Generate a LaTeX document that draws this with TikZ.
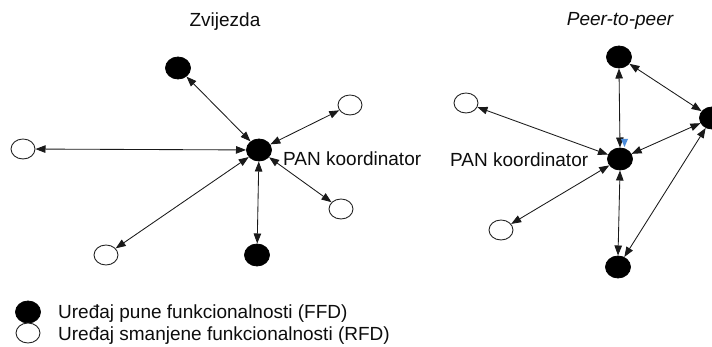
\documentclass[tikz,border=0pt]{standalone}
\usepackage{fontspec}
\setmainfont{Liberation Sans}
\usetikzlibrary{arrows.meta,shapes.geometric}
\begin{document}
\begin{tikzpicture}[x=1pt,y=-1pt,
  ffd/.style={ellipse,fill=black,draw=black,line width=0.8pt,minimum width=25pt,minimum height=22pt,inner sep=0pt,outer sep=0.5pt},
  rfd/.style={ellipse,fill=white,draw=black!85,line width=0.9pt,minimum width=24pt,minimum height=20pt,inner sep=0pt,outer sep=0.5pt},
  link/.style={line width=0.85pt,draw=black!90,{Triangle[length=10pt,width=7.5pt]}-{Triangle[length=10pt,width=7.5pt]}},
  lbl/.style={inner sep=0pt,font=\fontsize{19}{22}\selectfont,text=black!95}]
\useasboundingbox (0,0) rectangle (712,347);

% star topology
\node[lbl,anchor=base] (t1) at (225,27) {Zvijezda};
\node[ffd] (c1) at (259,150) {};
\node[ffd] (a1) at (178,68) {};
\node[rfd] (a2) at (350,105) {};
\node[rfd] (a3) at (23,149) {};
\node[rfd] (a4) at (341,209) {};
\node[rfd] (a5) at (106,255) {};
\node[ffd] (a6) at (257,255) {};
\node[lbl,anchor=base west] (l1) at (283,166) {PAN koordinator};
\foreach \n in {a1,a2,a3,a4,a5,a6} \draw[link] (c1) -- (\n);

% peer-to-peer topology
\node[lbl,anchor=base,font=\fontsize{19}{22}\selectfont\itshape] (t2) at (620,26) {Peer-to-peer};
\node[ffd] (c2) at (620,159) {};
\node[ffd] (b1) at (619,57) {};
\node[ffd] (b2) at (712,118) {};
\node[ffd] (b3) at (618,267) {};
\node[rfd] (b4) at (466,103) {};
\node[rfd] (b5) at (501,230) {};
\node[lbl,anchor=base west] (l2) at (450,167) {PAN koordinator};
\draw[link] (c2.north) -- (b1.south);
\draw[link] (c2) -- (b2);
\draw[link] (c2.south) -- (b3.north);
\draw[link] (c2) -- (b4);
\draw[link] (c2) -- (b5);
\draw[link] (b1) -- (b2);
\draw[link] (b2) -- (b3);
% small blue tip beside the upper link end
\fill[blue!55!cyan!80!black!70] (621,139) -- (628,139) -- (624.5,147) -- cycle;

% legend
\node[ffd] (k1) at (28,312) {};
\node[rfd] (k2) at (28,333) {};
\node[lbl,anchor=base west] (k1t) at (58,318) {Uređaj pune funkcionalnosti (FFD)};
\node[lbl,anchor=base west] (k2t) at (58,340) {Uređaj smanjene funkcionalnosti (RFD)};
\end{tikzpicture}
\end{document}
